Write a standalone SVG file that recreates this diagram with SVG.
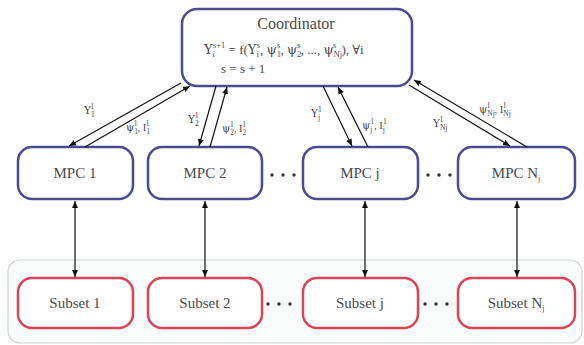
<svg xmlns="http://www.w3.org/2000/svg" width="584" height="345" viewBox="0 0 584 345">
<style>
text{font-family:"Liberation Serif","DejaVu Serif",serif;fill:#4a4a4a}
.g{font-family:"DejaVu Serif","Liberation Serif",serif}
.n{font-size:15px;text-anchor:middle}
.t{font-size:16px;text-anchor:middle}
.l{font-size:10.5px}
.f{font-size:13px}
.sub{font-size:7.5px}
.fs{font-size:8.5px}
.mpc{fill:#fff;stroke:#4a4c8e;stroke-width:2.5}
.sub-box{fill:#fff;stroke:#d94458;stroke-width:2.5}
.c{stroke:#111;stroke-width:1.2;fill:none}
.dot{fill:#333}
</style>
<defs>
<marker id="ah" markerWidth="8" markerHeight="8" refX="7" refY="4" orient="auto-start-reverse" markerUnits="userSpaceOnUse">
<path d="M0,1 L7,4 L0,7 Z" fill="#111"/>
</marker>
</defs>
<rect x="8" y="260" width="574" height="83" rx="12" fill="#fafcfc" stroke="#cfd2d2" stroke-width="1.2"/>
<g id="coordinator">
<rect class="mpc" x="182" y="9" width="230" height="77" rx="15"/>
<text class="t" x="296" y="29">Coordinator</text>
<text class="f" x="204" y="54"><tspan class="g">Υ</tspan><tspan class="fs" dy="3">i</tspan><tspan class="fs" dx="-2" dy="-9">s+1</tspan><tspan dy="6"> = f(</tspan><tspan class="g">Υ</tspan><tspan class="fs" dy="3">i</tspan><tspan class="fs" dx="-2" dy="-9">s</tspan><tspan dy="6">, </tspan><tspan class="g">ψ</tspan><tspan class="fs" dy="3">1</tspan><tspan class="fs" dx="-4" dy="-9">s</tspan><tspan dy="6">, </tspan><tspan class="g">ψ</tspan><tspan class="fs" dy="3">2</tspan><tspan class="fs" dx="-4" dy="-9">s</tspan><tspan dy="6">, ..., </tspan><tspan class="g">ψ</tspan><tspan class="fs" dy="3">Nj</tspan><tspan class="fs" dx="-9" dy="-9">s</tspan><tspan dy="6" dx="5">),  ∀i</tspan></text>
<text class="f" x="221" y="73">s  =  s  +  1</text>
</g>
<g id="mpc1"><rect class="mpc" x="18" y="147" width="115" height="52" rx="14"/><text class="n" x="75" y="178">MPC 1</text></g>
<g id="mpc2"><rect class="mpc" x="148" y="147" width="114" height="52" rx="14"/><text class="n" x="205" y="178">MPC 2</text></g>
<g id="mpcj"><rect class="mpc" x="303" y="147" width="115" height="52" rx="14"/><text class="n" x="360" y="178">MPC j</text></g>
<g id="mpcN"><rect class="mpc" x="458" y="147" width="117" height="52" rx="14"/><text class="n" x="516" y="178">MPC N<tspan class="sub" dy="3">j</tspan></text></g>
<g id="subset1"><rect class="sub-box" x="18" y="278" width="115" height="50" rx="14"/><text class="n" x="75" y="308">Subset 1</text></g>
<g id="subset2"><rect class="sub-box" x="148" y="278" width="114" height="50" rx="14"/><text class="n" x="205" y="308">Subset 2</text></g>
<g id="subsetj"><rect class="sub-box" x="303" y="278" width="115" height="50" rx="14"/><text class="n" x="360" y="308">Subset j</text></g>
<g id="subsetN"><rect class="sub-box" x="458" y="278" width="117" height="50" rx="14"/><text class="n" x="516" y="308">Subset N<tspan class="sub" dy="3">j</tspan></text></g>
<g id="dots">
<circle class="dot" cx="272" cy="175" r="1.7"/><circle class="dot" cx="283" cy="175" r="1.7"/><circle class="dot" cx="294" cy="175" r="1.7"/>
<circle class="dot" cx="428" cy="175" r="1.7"/><circle class="dot" cx="439" cy="175" r="1.7"/><circle class="dot" cx="450" cy="175" r="1.7"/>
<circle class="dot" cx="268" cy="304" r="1.7"/><circle class="dot" cx="279" cy="304" r="1.7"/><circle class="dot" cx="290" cy="304" r="1.7"/>
<circle class="dot" cx="425" cy="304" r="1.7"/><circle class="dot" cx="436" cy="304" r="1.7"/><circle class="dot" cx="447" cy="304" r="1.7"/>
</g>
<g id="connectors">
<line class="c" x1="181" y1="83" x2="69" y2="146" marker-end="url(#ah)"/>
<line class="c" x1="85" y1="147" x2="190" y2="86" marker-end="url(#ah)"/>
<line class="c" x1="216" y1="86" x2="199" y2="146" marker-end="url(#ah)"/>
<line class="c" x1="210" y1="147" x2="227" y2="87" marker-end="url(#ah)"/>
<line class="c" x1="323" y1="86" x2="352" y2="146" marker-end="url(#ah)"/>
<line class="c" x1="368" y1="147" x2="338" y2="87" marker-end="url(#ah)"/>
<line class="c" x1="409" y1="85" x2="510" y2="146" marker-end="url(#ah)"/>
<line class="c" x1="527" y1="147" x2="414" y2="80" marker-end="url(#ah)"/>
<line class="c" x1="75" y1="201" x2="75" y2="277" marker-start="url(#ah)" marker-end="url(#ah)"/>
<line class="c" x1="205" y1="201" x2="205" y2="277" marker-start="url(#ah)" marker-end="url(#ah)"/>
<line class="c" x1="365" y1="201" x2="365" y2="277" marker-start="url(#ah)" marker-end="url(#ah)"/>
<line class="c" x1="517" y1="201" x2="517" y2="277" marker-start="url(#ah)" marker-end="url(#ah)"/>
</g>
<g id="labels">
<text class="l" x="84" y="114"><tspan class="g">Υ</tspan><tspan class="sub" dy="3">1</tspan><tspan class="sub" dx="-4" dy="-8">1</tspan></text>
<text class="l" x="126" y="131"><tspan class="g">ψ</tspan><tspan class="sub" dy="3">1</tspan><tspan class="sub" dx="-4" dy="-8">1</tspan><tspan dy="5">, I</tspan><tspan class="sub" dy="3">1</tspan><tspan class="sub" dx="-4" dy="-8">1</tspan></text>
<text class="l" x="188" y="123"><tspan class="g">Υ</tspan><tspan class="sub" dy="3">2</tspan><tspan class="sub" dx="-4" dy="-8">1</tspan></text>
<text class="l" x="222" y="132"><tspan class="g">ψ</tspan><tspan class="sub" dy="3">2</tspan><tspan class="sub" dx="-4" dy="-8">1</tspan><tspan dy="5">, I</tspan><tspan class="sub" dy="3">2</tspan><tspan class="sub" dx="-4" dy="-8">1</tspan></text>
<text class="l" x="311" y="117"><tspan class="g">Υ</tspan><tspan class="sub" dy="3">j</tspan><tspan class="sub" dx="-2" dy="-8">1</tspan></text>
<text class="l" x="362" y="129"><tspan class="g">ψ</tspan><tspan class="sub" dy="3">j</tspan><tspan class="sub" dx="-2" dy="-8">1</tspan><tspan dy="5">, I</tspan><tspan class="sub" dy="3">j</tspan><tspan class="sub" dx="-2" dy="-8">1</tspan></text>
<text class="l" x="433" y="127"><tspan class="g">Υ</tspan><tspan class="sub" dy="3">Nj</tspan><tspan class="sub" dx="-8" dy="-8">1</tspan></text>
<text class="l" x="479" y="113"><tspan class="g">ψ</tspan><tspan class="sub" dy="3">Nj</tspan><tspan class="sub" dx="-8" dy="-8">1</tspan><tspan dx="4" dy="5">, I</tspan><tspan class="sub" dy="3">Nj</tspan><tspan class="sub" dx="-8" dy="-8">1</tspan></text>
</g>
</svg>
